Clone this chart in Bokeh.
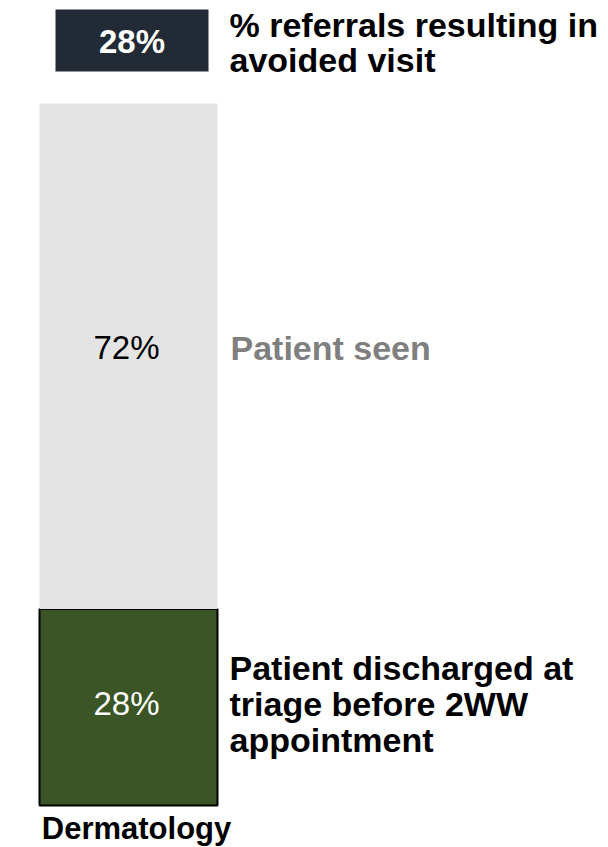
from bokeh.plotting import figure
from bokeh.models import Range1d
from bokeh.core.properties import value
from bokeh.embed import file_html
from bokeh.resources import INLINE

# --- data -------------------------------------------------------------
categories = ["Dermatology"]
discharged_pct = [28]      # discharged at triage before 2WW appointment
seen_pct = [72]            # patient seen
avoided_pct = [28]         # referrals resulting in avoided visit

discharged_label = ["Patient discharged at", "triage before 2WW", "appointment"]
seen_label = "Patient seen"
avoided_label = ["% referrals resulting in", "avoided visit"]

# --- layout ------------------------------------------------------------
W, H = 608, 847
BASE_PX = 805          # pixel row of the 0% line
PX_PER_PCT = 7.02      # vertical pixels per percentage point
BAR_X = 128            # bar centre
BAR_W = 178            # bar width
LABEL_X = 229          # left edge of the right-hand labels
LINE_GAP = 36          # spacing of wrapped label lines

FONT = value("Liberation Sans")
DARK = "#222a35"
GREEN = "#3b5526"
LIGHT = "#e4e4e4"
GREY_TXT = "#7f7f7f"

y_start = (BASE_PX - H) / PX_PER_PCT
y_end = BASE_PX / PX_PER_PCT

p = figure(width=W, height=H, output_backend="svg", toolbar_location=None,
           x_range=Range1d(0, W), y_range=Range1d(y_start, y_end),
           min_border=0)
p.axis.visible = False
p.grid.visible = False
p.outline_line_color = None
p.background_fill_color = "white"
p.border_fill_color = "white"

xs = [BAR_X for _ in categories]
d_top = discharged_pct
s_top = [a + b for a, b in zip(discharged_pct, seen_pct)]
d_mid = [v / 2 for v in discharged_pct]
s_mid = [d + s / 2 for d, s in zip(discharged_pct, seen_pct)]

# stacked bar
p.vbar(x=xs, width=BAR_W, bottom=[0] * len(xs), top=d_top,
       fill_color=GREEN, line_color="black", line_width=2)
p.vbar(x=xs, width=BAR_W, bottom=d_top, top=s_top,
       fill_color=LIGHT, line_color=None)

# value labels inside the segments
p.text(x=xs, y=d_mid, text=[f"{v}%" for v in discharged_pct],
       y_offset=-4, x_offset=-2,
       text_font=FONT, text_font_size="33px", text_color="white",
       text_align="center", text_baseline="middle")
p.text(x=xs, y=s_mid, text=[f"{v}%" for v in seen_pct],
       y_offset=-9, x_offset=-2,
       text_font=FONT, text_font_size="33px", text_color="black",
       text_align="center", text_baseline="middle")

# segment labels to the right
for i, line in enumerate(discharged_label):
    p.text(x=[LABEL_X], y=d_mid, text=[line], y_offset=-39 + LINE_GAP * i,
           text_font=FONT, text_font_size="34px", text_font_style="bold",
           text_color="black", text_align="left", text_baseline="middle")
p.text(x=[LABEL_X + 1], y=s_mid, text=[seen_label], y_offset=-8,
       text_font=FONT, text_font_size="34px", text_font_style="bold",
       text_color=GREY_TXT, text_align="left", text_baseline="middle")

# avoided-visit callout above the bar
box_y = s_top[0] + 63 / PX_PER_PCT
p.rect(x=[131.5], y=[box_y], width=153, height=62,
       width_units="screen", height_units="screen",
       fill_color=DARK, line_color=None)
p.text(x=[131.5], y=[box_y], text=[f"{avoided_pct[0]}%"], y_offset=1,
       text_font=FONT, text_font_size="33px", text_font_style="bold",
       text_color="white", text_align="center", text_baseline="middle")
for i, line in enumerate(avoided_label):
    p.text(x=[LABEL_X], y=s_top, text=[line], y_offset=-79 + 35 * i,
           text_font=FONT, text_font_size="34px", text_font_style="bold",
           text_color="black", text_align="left", text_baseline="middle")

# category label under the bar
p.text(x=[BAR_X + 8], y=[0], text=categories, y_offset=23,
       text_font=FONT, text_font_size="31px", text_font_style="bold",
       text_color="black", text_align="center", text_baseline="middle")

open("out.html", "w").write(file_html(p, INLINE))
